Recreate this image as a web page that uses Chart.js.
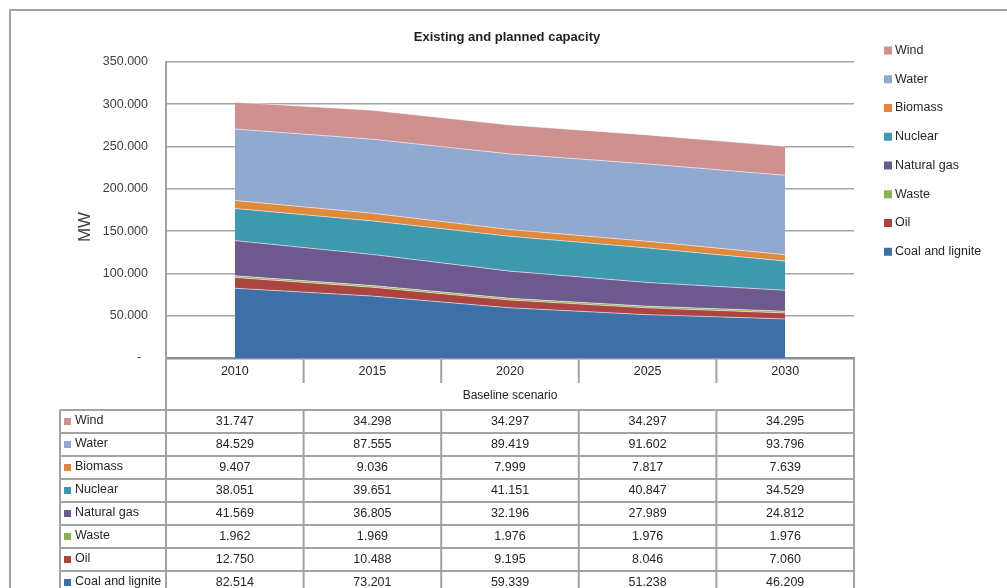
<!DOCTYPE html>
<html>
<head>
<meta charset="utf-8">
<script src="https://cdn.jsdelivr.net/npm/chart.js@4/dist/chart.umd.min.js"></script>
<style>
  body { margin: 0; background: #fff; }
  #wrap { width: 1007px; height: 588px; }
</style>
</head>
<body>
<div id="wrap"><canvas id="capChart" width="1007" height="588"></canvas></div>
<script>
// Existing and planned capacity (MW), baseline scenario
const years = ['2010', '2015', '2020', '2025', '2030'];

const coal = [82514, 73201, 59339, 51238, 46209];
const oil = [12750, 10488, 9195, 8046, 7060];
const waste = [1962, 1969, 1976, 1976, 1976];
const naturalGas = [41569, 36805, 32196, 27989, 24812];
const nuclear = [38051, 39651, 41151, 40847, 34529];
const biomass = [9407, 9036, 7999, 7817, 7639];
const water = [84529, 87555, 89419, 91602, 93796];
const wind = [31747, 34298, 34297, 34297, 34295];

const seriesNames = ['Coal and lignite', 'Oil', 'Waste', 'Natural gas', 'Nuclear', 'Biomass', 'Water', 'Wind'];
const seriesValues = [coal, oil, waste, naturalGas, nuclear, biomass, water, wind];
const seriesColors = ['#3f6fa7', '#ac4441', '#8db151', '#6e598f', '#3e98ae', '#e0883c', '#91a9cf', '#cf9190'];

const yTicks = [0, 50000, 100000, 150000, 200000, 250000, 300000, 350000];

const FONT = "'Liberation Sans', Arial, sans-serif";
const LINE = '#a3a3a3';

// 31747 -> "31.747"
function fmt(v) {
    return String(v).replace(/\B(?=(\d{3})+(?!\d))/g, '.');
}

// title, axis name, legend and data table drawn around the plot
const decorations = {
    id: 'decorations',
    afterDraw(chart) {
        const ctx = chart.ctx;
        const xs = chart.scales.x;
        const area = chart.chartArea;
        const n = years.length;
        const band = (xs.right - xs.left) / n;
        const bounds = [];
        for (let i = 0; i <= n; i++) bounds.push(xs.getPixelForValue(0) - band / 2 + i * band);

        ctx.save();

        // outer frame
        ctx.strokeStyle = LINE;
        ctx.lineWidth = 2;
        ctx.beginPath();
        ctx.moveTo(10, 588);
        ctx.lineTo(10, 10);
        ctx.lineTo(1007, 10);
        ctx.stroke();

        // title
        ctx.fillStyle = '#1f1f1f';
        ctx.font = 'bold 13px ' + FONT;
        ctx.textAlign = 'center';
        ctx.textBaseline = 'middle';
        ctx.fillText('Existing and planned capacity', 507, 37);

        // axis name
        ctx.save();
        ctx.translate(85, 227);
        ctx.rotate(-Math.PI / 2);
        ctx.fillStyle = '#404040';
        ctx.font = '17px ' + FONT;
        ctx.fillText('MW', 0, 0);
        ctx.restore();

        // legend (top entry = top layer)
        ctx.font = '12.5px ' + FONT;
        ctx.textAlign = 'left';
        for (let k = 0; k < seriesNames.length; k++) {
            const i = seriesNames.length - 1 - k;
            const cy = 50.5 + k * 28.75;
            ctx.fillStyle = seriesColors[i];
            ctx.fillRect(884, cy - 4, 8, 8);
            ctx.fillStyle = '#262626';
            ctx.fillText(seriesNames[i], 895, cy);
        }

        // category separators under the axis
        ctx.strokeStyle = LINE;
        ctx.lineWidth = 2;
        ctx.beginPath();
        for (let i = 1; i < n; i++) {
            ctx.moveTo(bounds[i], area.bottom);
            ctx.lineTo(bounds[i], 383);
        }
        ctx.moveTo(bounds[0], area.bottom);
        ctx.lineTo(bounds[0], 588);
        ctx.moveTo(bounds[n], area.bottom);
        ctx.lineTo(bounds[n], 588);
        ctx.stroke();

        // scenario row
        ctx.fillStyle = '#262626';
        ctx.textAlign = 'center';
        ctx.font = '12px ' + FONT;
        ctx.fillText('Baseline scenario', (bounds[0] + bounds[n]) / 2, 396);

        // data table
        const rowTop = 410, rowH = 23, tableLeft = 60;
        const rows = seriesNames.length;
        ctx.beginPath();
        for (let r = 0; r <= rows; r++) {
            const y = rowTop + r * rowH;
            ctx.moveTo(tableLeft, y);
            ctx.lineTo(bounds[n], y);
        }
        [tableLeft].concat(bounds).forEach(x => {
            ctx.moveTo(x, rowTop);
            ctx.lineTo(x, rowTop + rows * rowH);
        });
        ctx.stroke();

        ctx.font = '12.5px ' + FONT;
        for (let k = 0; k < rows; k++) {
            const i = rows - 1 - k;
            const cy = rowTop + k * rowH + rowH / 2;
            ctx.fillStyle = seriesColors[i];
            ctx.fillRect(64, cy - 3.5, 7, 7);
            ctx.fillStyle = '#262626';
            ctx.textAlign = 'left';
            ctx.fillText(seriesNames[i], 75, cy - 1);
            ctx.textAlign = 'center';
            chart.data.datasets[i].data.forEach((v, j) => {
                ctx.fillText(fmt(v), xs.getPixelForValue(j), cy);
            });
        }

        ctx.restore();
    }
};

const datasets = seriesNames.map((name, i) => ({
    label: name,
    data: seriesValues[i],
    backgroundColor: seriesColors[i],
    borderColor: 'rgba(255,255,255,0.55)',
    borderWidth: 1,
    pointRadius: 0,
    tension: 0,
    fill: i === 0 ? 'origin' : '-1'
}));

new Chart(document.getElementById('capChart'), {
    type: 'line',
    data: { labels: years, datasets },
    options: {
        responsive: false,
        devicePixelRatio: 1,
        animation: false,
        layout: { padding: { left: 10, top: 62, right: 153, bottom: 0 } },
        plugins: {
            legend: { display: false },
            title: { display: false },
            tooltip: { enabled: false }
        },
        scales: {
            x: {
                offset: true,
                grid: { display: false, drawTicks: false },
                border: { display: true, color: '#8f8f8f', width: 2.5 },
                ticks: { color: '#262626', font: { family: FONT, size: 12.5 }, padding: 6, maxRotation: 0 },
                afterFit(scale) { scale.height = 230; }
            },
            y: {
                stacked: true,
                min: 0,
                max: 350000,
                afterBuildTicks(scale) { scale.ticks = yTicks.map(v => ({ value: v })); },
                grid: { color: LINE, lineWidth: 1.6, drawTicks: false },
                border: { display: true, color: LINE, width: 2 },
                ticks: {
                    color: '#404040',
                    font: { family: FONT, size: 12.5 },
                    padding: 18,
                    callback: v => v === 0 ? '-  ' : fmt(v)
                },
                afterFit(scale) { scale.width = 156; }
            }
        }
    },
    plugins: [decorations]
});
</script>
</body>
</html>
